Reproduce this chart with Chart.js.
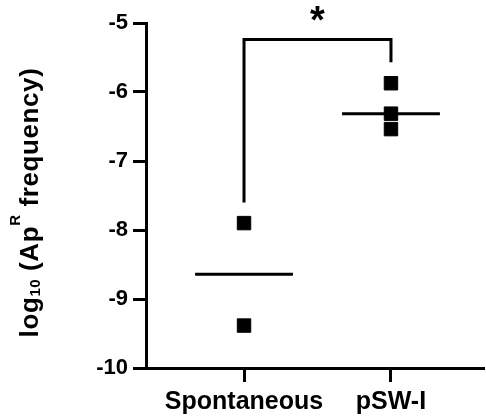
<!DOCTYPE html>
<html><head><meta charset="utf-8">
<script src="https://cdn.jsdelivr.net/npm/chart.js@4"></script>
<style>html,body{margin:0;padding:0;background:#fff}#wrap{width:486px;height:419px}</style>
</head><body><div id="wrap"><canvas id="c" width="486" height="419"></canvas></div>
<script>
const categories = ['Spontaneous', 'pSW-I'];
const spontaneousValues = [-7.90, -9.385];
const pswValues = [-5.873, -6.314, -6.538];
const yTicks = [-5, -6, -7, -8, -9, -10];
const bracketX = [0, 0, 1, 1];
const bracketY = [-7.60, -5.24, -5.24, -5.57];
const significance = '*';
const yTitleParts = [
  {t: 'log', s: 'main', dy: 0},
  {t: '10', s: 'small', dy: 2},
  {t: ' (Ap', s: 'main', dy: 0},
  {t: 'R', s: 'small', dy: -18},
  {t: ' frequency)', s: 'main', dy: 0}
];

const FONT = '"Liberation Sans", Arial, Helvetica, sans-serif';

function median(arr) {
  const s = [...arr].sort((a, b) => a - b);
  const m = Math.floor(s.length / 2);
  return s.length % 2 ? s[m] : (s[m - 1] + s[m]) / 2;
}
const groups = [spontaneousValues, pswValues];
const HALF = 0.333;

const datasets = [];
groups.forEach((vals, i) => {
  datasets.push({
    type: 'scatter',
    data: vals.map(v => ({x: i, y: v})),
    pointStyle: 'rect',
    pointRadius: 9.5,
    pointHoverRadius: 9.5,
    backgroundColor: '#000',
    borderColor: '#000',
    borderWidth: 1,
    showLine: false
  });
});
groups.forEach((vals, i) => {
  const m = median(vals);
  datasets.push({
    type: 'line',
    data: [{x: i - HALF, y: m}, {x: i + HALF, y: m}],
    borderColor: '#000',
    borderWidth: 3,
    pointRadius: 0,
    showLine: true,
    borderCapStyle: 'butt'
  });
});
datasets.push({
  type: 'line',
  data: bracketX.map((x, i) => ({x: x, y: bracketY[i]})),
  borderColor: '#000',
  borderWidth: 3,
  pointRadius: 0,
  showLine: true,
  borderJoinStyle: 'miter',
  borderCapStyle: 'butt',
  tension: 0
});

const annot = {
  id: 'annot',
  afterDraw(chart) {
    const ctx = chart.ctx;
    const xs = chart.scales.x, ys = chart.scales.y;
    ctx.save();
    ctx.fillStyle = '#000';
    // significance star
    const sx = (xs.getPixelForValue(bracketX[0]) + xs.getPixelForValue(bracketX[bracketX.length - 1])) / 2;
    const sy = ys.getPixelForValue(Math.max(...bracketY)) - 7;
    ctx.font = 'bold 38px ' + FONT;
    ctx.textAlign = 'center';
    ctx.textBaseline = 'alphabetic';
    ctx.fillText(significance, sx, sy);
    // y-axis title
    const fonts = {main: 'bold 26px ' + FONT, small: 'bold 15px ' + FONT};
    try { ctx.letterSpacing = '0.6px'; } catch (e) {}
    let total = 0;
    yTitleParts.forEach(p => { ctx.font = fonts[p.s]; p.w = ctx.measureText(p.t).width; total += p.w; });
    ctx.translate(38, (ys.top + ys.bottom) / 2 + 7);
    ctx.rotate(-Math.PI / 2);
    ctx.textAlign = 'left';
    let x = -total / 2;
    yTitleParts.forEach(p => {
      ctx.font = fonts[p.s];
      ctx.fillText(p.t, x, p.dy);
      x += p.w;
    });
    ctx.restore();
  }
};

new Chart(document.getElementById('c'), {
  type: 'scatter',
  data: {datasets},
  options: {
    responsive: false,
    animation: false,
    devicePixelRatio: 1,
    layout: {autoPadding: false, padding: {left: 0, top: 23, right: 2, bottom: 0}},
    plugins: {legend: {display: false}, tooltip: {enabled: false}},
    events: [],
    scales: {
      x: {
        type: 'linear',
        position: 'bottom',
        min: -0.667,
        max: 1.633,
        afterBuildTicks: s => { s.ticks = categories.map((_, i) => ({value: i})); },
        afterFit: s => { s.height = 51; },
        ticks: {
          callback: v => categories[v],
          font: {family: FONT, size: 25, weight: 'bold'},
          color: '#000',
          padding: 5,
          maxRotation: 0,
          autoSkip: false
        },
        grid: {drawOnChartArea: false, tickLength: 14, tickWidth: 3, tickColor: '#000'},
        border: {width: 3, color: '#000'}
      },
      y: {
        type: 'linear',
        min: -10,
        max: -5,
        afterBuildTicks: s => { s.ticks = yTicks.map(v => ({value: v})); },
        afterFit: s => { s.width = 146; },
        ticks: {
          font: {family: FONT, size: 22, weight: 'bold'},
          color: '#000',
          padding: 5
        },
        grid: {drawOnChartArea: false, tickLength: 13, tickWidth: 3, tickColor: '#000'},
        border: {width: 3, color: '#000'}
      }
    }
  },
  plugins: [annot]
});
</script>
</body></html>
